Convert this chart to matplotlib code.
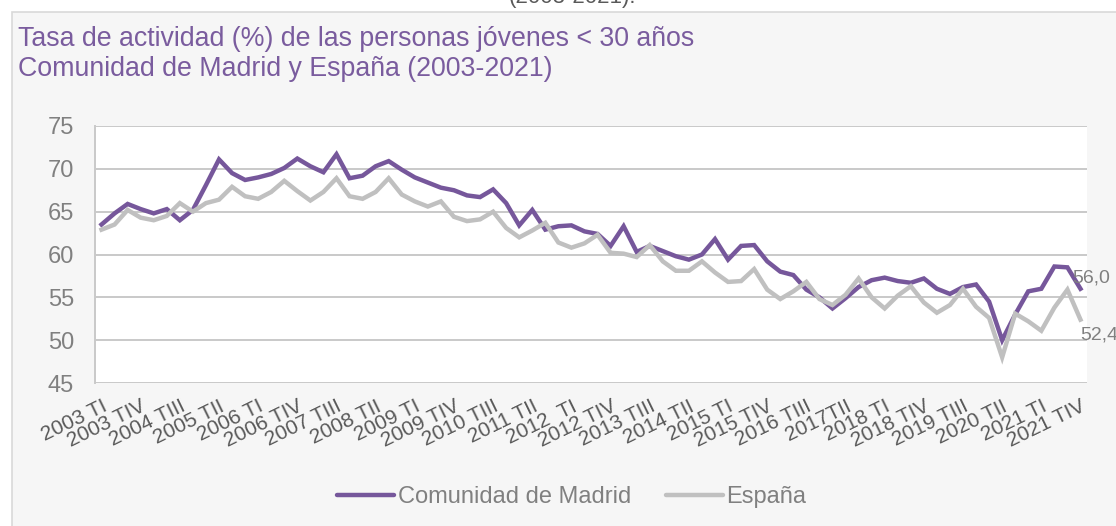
import matplotlib.pyplot as plt
from matplotlib.patches import Rectangle

# quarterly data 2003 TI - 2021 TIV
madrid = [63.5, 64.8, 65.9, 65.3, 64.8, 65.3, 64.0, 65.2, 68.1, 71.1,
          69.5, 68.7, 69.0, 69.4, 70.1, 71.2, 70.3, 69.6, 71.7, 68.9,
          69.2, 70.3, 70.9, 69.9, 69.0, 68.4, 67.8, 67.5, 66.9, 66.7,
          67.6, 66.0, 63.4, 65.2, 62.9, 63.3, 63.4, 62.7, 62.4, 61.0,
          63.3, 60.3, 61.0, 60.4, 59.8, 59.4, 60.0, 61.8, 59.4, 61.0,
          61.1, 59.2, 58.0, 57.6, 55.9, 55.0, 53.7, 54.9, 56.2, 57.0,
          57.3, 56.9, 56.7, 57.2, 56.0, 55.4, 56.2, 56.5, 54.5, 50.0,
          53.0, 55.7, 56.0, 58.6, 58.5, 56.0]

espana = [62.9, 63.5, 65.2, 64.3, 64.0, 64.5, 66.0, 65.0, 66.0, 66.4,
          67.9, 66.8, 66.5, 67.3, 68.6, 67.4, 66.3, 67.3, 68.9, 66.8,
          66.5, 67.3, 68.9, 67.0, 66.2, 65.6, 66.2, 64.4, 63.9, 64.1,
          65.0, 63.1, 62.0, 62.8, 63.7, 61.4, 60.8, 61.3, 62.3, 60.2,
          60.1, 59.7, 61.1, 59.2, 58.1, 58.1, 59.2, 57.9, 56.8, 56.9,
          58.3, 55.9, 54.8, 55.7, 56.8, 54.8, 54.1, 55.3, 57.2, 55.0,
          53.7, 55.2, 56.3, 54.4, 53.2, 54.1, 56.0, 53.9, 52.6, 48.0,
          53.1, 52.2, 51.1, 53.8, 55.9, 52.4]

# one label every 3 quarters
tick_labels = ["2003 TI", "2003 TIV", "2004 TIII", "2005 TII", "2006 TI",
               "2006 TIV", "2007 TIII", "2008 TII", "2009 TI", "2009 TIV",
               "2010 TIII", "2011 TII", "2012  TI", "2012 TIV", "2013 TIII",
               "2014 TII", "2015 TI", "2015 TIV", "2016 TIII", "2017TII",
               "2018 TI", "2018 TIV", "2019 TIII", "2020 TII", "2021 TI",
               "2021 TIV"]

purple = "#76579b"
grey_line = "#c0c0c0"
text_grey = "#808080"

plt.rcParams["font.family"] = ["Liberation Sans", "DejaVu Sans"]

fig = plt.figure(figsize=(11.16, 5.26), dpi=100, facecolor="white")

# chart frame
fig.patches.append(Rectangle((12 / 1116, -0.1), 1.2, 1 - 12 / 526 + 0.1,
                             transform=fig.transFigure, facecolor="#f6f6f6",
                             edgecolor="#d9d9d9", linewidth=1.2, zorder=-5))
fig.text(572 / 1116, 1.004, "(2003-2021).", fontsize=16, color="#595959",
         ha="center", va="center")

ax = fig.add_axes([95 / 1116, 1 - 383 / 526, 992 / 1116, 257 / 526])
ax.set_zorder(2)
ax.set_facecolor("white")

x = list(range(len(madrid)))
ax.plot(x, madrid, color=purple, linewidth=3.2, label="Comunidad de Madrid",
        solid_joinstyle="miter", zorder=3)
ax.plot(x, espana, color=grey_line, linewidth=3.2, label="España",
        solid_joinstyle="miter", zorder=3)

ax.set_xlim(-0.5, len(madrid) - 0.5)
ax.set_ylim(45, 75)
ax.set_yticks(range(45, 80, 5))
ax.yaxis.grid(True, color="#c9c9c9", linewidth=1.4)
ax.set_axisbelow(True)
ax.tick_params(axis="y", length=0, pad=15, labelsize=17, labelcolor=text_grey)

ax.set_xticks(x[::3])
ax.set_xticklabels(tick_labels, rotation=26, ha="right",
                   rotation_mode="anchor", fontsize=15, color="#595959")
ax.tick_params(axis="x", length=0, pad=10)

for side in ["top", "right", "bottom"]:
    ax.spines[side].set_visible(False)
ax.spines["left"].set_color("#c9c9c9")
ax.spines["left"].set_linewidth(1.4)

# last values
ax.annotate("56,0", (x[-1], madrid[-1]), xytext=(-6, 8), textcoords="offset points",
            fontsize=14, color=text_grey, ha="left", va="center", annotation_clip=False)
ax.annotate("52,4", (x[-1], espana[-1]), xytext=(0, -11), textcoords="offset points",
            fontsize=14, color=text_grey, ha="left", va="center", annotation_clip=False)

fig.text(18 / 1116, 1 - 39 / 526, "Tasa de actividad (%) de las personas jóvenes < 30 años",
         fontsize=19.3, color="#7a5c9e", ha="left", va="center")
fig.text(18 / 1116, 1 - 69 / 526, "Comunidad de Madrid y España (2003-2021)",
         fontsize=19.3, color="#7a5c9e", ha="left", va="center")

leg = fig.legend(loc="center", bbox_to_anchor=(572 / 1116, 1 - 497 / 526), ncol=2,
                 frameon=False, fontsize=17, handlelength=2.4, handletextpad=0.15,
                 columnspacing=1.5)
for t in leg.get_texts():
    t.set_color(text_grey)
for h in leg.legend_handles:
    h.set_solid_capstyle("round")

fig.savefig("out.png", dpi=100, facecolor=fig.get_facecolor())
